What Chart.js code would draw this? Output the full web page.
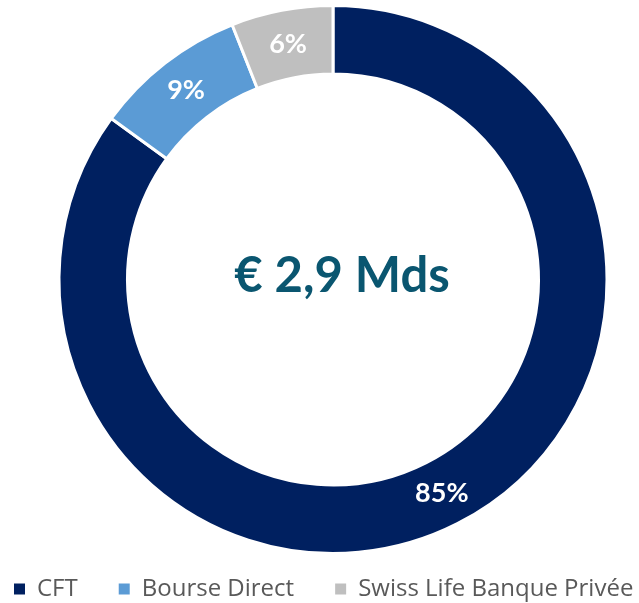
<!DOCTYPE html>
<html>
<head>
<meta charset="utf-8">
<script src="https://cdn.jsdelivr.net/npm/chart.js@4"></script>
<style>
  html, body { margin: 0; padding: 0; background: #fff; }
  #wrap { width: 639px; height: 603px; }
</style>
</head>
<body>
<div id="wrap"><canvas id="donut"></canvas></div>
<script>
const labels = ['CFT', 'Bourse Direct', 'Swiss Life Banque Privée'];
const shares = [85, 9, 6];
const colors = ['#002060', '#5B9BD5', '#BFBFBF'];
const centerText = '€ 2,9 Mds';

// the ring sits a little right of the legend's centre in the original
const RING_CX = 333;
const shiftRing = {
  id: 'shiftRing',
  afterLayout(chart) {
    const a = chart.chartArea;
    a.left = 2 * RING_CX - a.right;
    a.width = a.right - a.left;
  }
};

// percentage labels inside each slice + the total in the middle
const donutText = {
  id: 'donutText',
  afterDatasetsDraw(chart) {
    const ctx = chart.ctx;
    const meta = chart.getDatasetMeta(0);
    ctx.save();
    ctx.textAlign = 'center';
    ctx.textBaseline = 'middle';
    ctx.fillStyle = '#ffffff';
    ctx.font = 'bold 27px Lato';
    meta.data.forEach((arc, i) => {
      const p = arc.tooltipPosition();
      ctx.fillText(shares[i] + '%', p.x, p.y);
    });
    const first = meta.data[0];
    ctx.fillStyle = '#0A5670';
    ctx.font = 'bold 49px Lato';
    ctx.fillText(centerText, first.x + 9, first.y - 3);
    ctx.restore();
  }
};

new Chart(document.getElementById('donut'), {
  type: 'doughnut',
  data: {
    labels: labels,
    datasets: [{
      data: shares,
      backgroundColor: colors,
      borderColor: '#ffffff',
      borderWidth: 3,
      radius: 274,
      cutout: '75%'
    }]
  },
  options: {
    responsive: true,
    maintainAspectRatio: false,
    animation: false,
    layout: { padding: { top: 23, bottom: -8, left: -27, right: -50 } },
    plugins: {
      tooltip: { enabled: false },
      legend: {
        position: 'bottom',
        align: 'start',
        labels: {
          boxWidth: 11,
          boxHeight: 11,
          padding: 41,
          color: '#595959',
          font: { family: 'Open Sans', size: 24 },
          generateLabels(chart) {
            const items = Chart.overrides.doughnut.plugins.legend.labels.generateLabels(chart);
            items.forEach(item => { item.lineWidth = 0; });
            return items;
          }
        }
      }
    }
  },
  plugins: [shiftRing, donutText]
});
</script>
</body>
</html>
